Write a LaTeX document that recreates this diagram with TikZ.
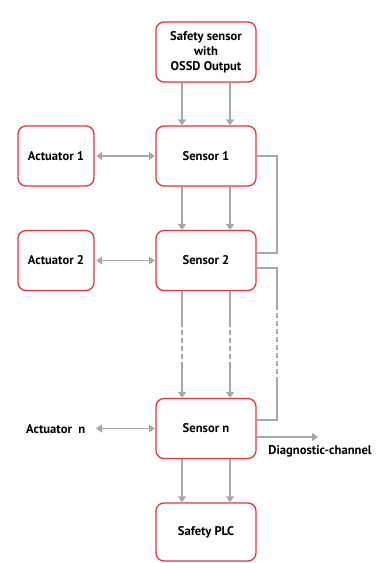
\documentclass[tikz,border=0pt]{standalone}
\usepackage{fontspec}
\setmainfont{PT Sans}
\usetikzlibrary{arrows.meta,calc}
\definecolor{boxred}{HTML}{E8333C}
\definecolor{linegray}{HTML}{A8A8A8}
\begin{document}
\begin{tikzpicture}[x=1pt,y=-1pt,
  box/.style={draw=boxred,line width=1.3pt,rounded corners=8pt,fill=white,
    minimum width=100pt,minimum height=60pt,inner sep=0pt,align=center,
    font=\bfseries\fontsize{12.6}{15}\selectfont},
  actbox/.style={box,minimum width=76pt},
  lbl/.style={font=\bfseries\fontsize{12.6}{14}\selectfont,inner sep=0pt},
  conn/.style={draw=linegray,line width=1.8pt},
  tip/.style={-{Triangle[width=8pt,length=6pt]}},
  dtip/.style={{Triangle[width=8pt,length=6pt]}-{Triangle[width=8pt,length=6pt]}},
  dsh/.style={dash pattern=on 5pt off 3pt}]
\useasboundingbox (0,0) rectangle (381,563);
% boxes
\node[box] (s0) at (206,52) {Safety sensor\\with\\OSSD Output};
\node[box] (s1) at (206,156) {Sensor 1};
\node[box] (s2) at (206,260.5) {Sensor 2};
\node[box] (sn) at (206,428.5) {Sensor n};
\node[box,minimum height=58pt] (plc) at (206,532) {Safety PLC};
\node[actbox] (a1) at (56,156) {Actuator 1};
\node[actbox] (a2) at (56,260.5) {Actuator 2};
\node[lbl,anchor=west] (an) at (26,429) {Actuator\ \ n};
\coordinate (anr) at (96,428.5);
% vertical arrows
\foreach \dx in {-24,24}{
  \draw[conn,tip] ([xshift=\dx pt]s0.south) -- ([xshift=\dx pt]s1.north);
  \draw[conn,tip] ([xshift=\dx pt]s1.south) -- ([xshift=\dx pt]s2.north);
  \draw[conn,tip] ([xshift=\dx pt]sn.south) -- ([xshift=\dx pt]plc.north);
  \coordinate (m1\dx) at ([xshift=\dx pt]206,322);
  \coordinate (m2\dx) at ([xshift=\dx pt]206,367);
  \draw[conn] ([xshift=\dx pt]s2.south) -- (m1\dx);
  \draw[conn,dsh] (m1\dx) -- (m2\dx);
  \draw[conn,tip] (m2\dx) -- ([xshift=\dx pt]sn.north);
}
% actuator links
\draw[conn,dtip,shorten <=1.5pt,shorten >=0.5pt] (a1.east) -- (s1.west);
\draw[conn,dtip,shorten <=1.5pt,shorten >=0.5pt] (a2.east) -- (s2.west);
\draw[conn,dtip,shorten >=0.5pt] (anr) -- (sn.west |- anr);
% right side links
\draw[conn] (s1.east) -- (277,156) -- (277,253) -- ($(s2.east)+(0,-7.5)$);
\coordinate (r1) at (277,305);
\coordinate (r2) at (277,381);
\draw[conn] ($(s2.east)+(0,7.5)$) -- (277,268) -- (r1);
\draw[conn,dsh] (r1) -- (r2);
\draw[conn] (r2) -- (277,420) -- ($(sn.east)+(0,-8.5)$);
% diagnostic
\coordinate (dg) at (318,437);
\draw[conn,tip] ($(sn.east)+(0,8.5)$) -- (dg);
\node[lbl] (dgl) at (320,451) {Diagnostic-channel};
\end{tikzpicture}
\end{document}
